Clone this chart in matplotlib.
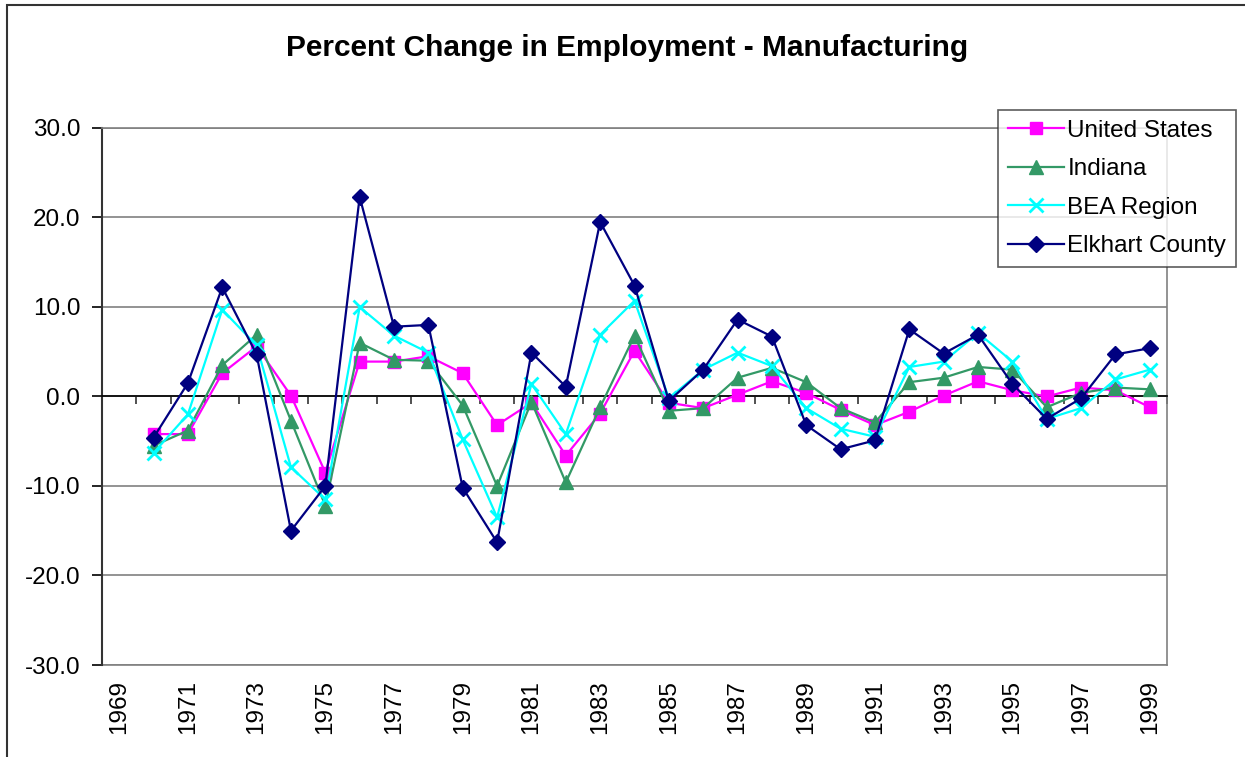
import matplotlib
matplotlib.use("Agg")
import matplotlib.pyplot as plt
from matplotlib.patches import Rectangle

plt.rcParams["font.family"] = ["Liberation Sans", "DejaVu Sans"]

# Data
years = list(range(1970, 2000))
united_states = [-4.2, -4.2, 2.6, 5.6, 0.1, -8.5, 3.9, 3.9, 4.5, 2.6,
                 -3.2, -0.7, -6.6, -1.9, 5.1, -0.7, -1.3, 0.2, 1.7, 0.4,
                 -1.5, -3.2, -1.7, 0.1, 1.7, 0.7, 0.0, 1.0, 0.7, -1.2]
indiana = [-5.5, -3.8, 3.5, 6.9, -2.7, -12.2, 6.0, 4.1, 4.0, -1.0,
           -10.0, -0.6, -9.6, -1.2, 6.8, -1.6, -1.3, 2.1, 3.2, 1.6,
           -1.3, -2.9, 1.6, 2.1, 3.3, 3.0, -1.2, 0.4, 1.0, 0.8]
bea_region = [-6.3, -2.0, 9.7, 5.7, -7.9, -11.5, 10.0, 6.8, 4.9, -4.8,
              -13.5, 1.4, -4.2, 6.9, 10.7, -0.2, 3.0, 4.9, 3.4, -1.3,
              -3.6, -4.5, 3.3, 3.9, 7.1, 3.9, -2.5, -1.3, 1.9, 3.0]
elkhart = [-4.6, 1.5, 12.2, 4.7, -15.0, -10.0, 22.3, 7.8, 8.0, -10.2,
           -16.3, 4.9, 1.1, 19.5, 12.4, -0.5, 3.0, 8.6, 6.7, -3.2,
           -5.9, -4.9, 7.5, 4.8, 6.9, 1.4, -2.5, -0.2, 4.7, 5.4]
tick_years = list(range(1969, 2000, 2))

fig = plt.figure(figsize=(12.45, 7.57), dpi=100)
fig.patches.append(Rectangle((7 / 1245, -0.05), 1.1, 1 - 5 / 757 + 0.05,
                             transform=fig.transFigure, fill=False,
                             edgecolor="#333333", linewidth=1.5))

ax = fig.add_axes([102 / 1245, 1 - 665 / 757, 1065 / 1245, 537 / 757])

ax.plot(years, united_states, color="#FF00FF", marker="s", markersize=9,
        linewidth=1.6, label="United States", zorder=3)
ax.plot(years, indiana, color="#339966", marker="^", markersize=10,
        linewidth=1.6, label="Indiana", zorder=3)
ax.plot(years, bea_region, color="#00FFFF", marker="x", markersize=10,
        markeredgewidth=2, linewidth=1.6, label="BEA Region", zorder=3)
ax.plot(years, elkhart, color="#000080", marker="D", markersize=8,
        linewidth=1.6, label="Elkhart County", zorder=3)

ax.set_xlim(1968.5, 1999.5)
ax.set_ylim(-30, 30)
ax.set_yticks(range(-30, 31, 10))
ax.set_yticklabels([f"{v:.1f}" for v in range(-30, 31, 10)], fontsize=17.5)
ax.tick_params(axis="y", direction="out", length=7, width=1.2, pad=8.5)
ax.grid(axis="y", color="#808080", linewidth=1.2)

# category axis crosses at zero, ticks between categories
ax.spines["bottom"].set_position(("data", 0))
ax.spines["bottom"].set_color("black")
ax.spines["bottom"].set_linewidth(1.2)
ax.set_xticks([y + 0.5 for y in range(1968, 2000)])
ax.tick_params(axis="x", direction="out", length=6, width=1.2,
               labelbottom=False, color="#333333")
for side in ["top", "right"]:
    ax.spines[side].set_color("#808080")
    ax.spines[side].set_linewidth(1.2)
ax.spines["left"].set_color("#333333")
ax.spines["left"].set_linewidth(1.5)

sec = ax.secondary_xaxis("bottom")
sec.set_xticks(tick_years)
sec.set_xticklabels([str(y) for y in tick_years], rotation=90, fontsize=17.5)
sec.tick_params(length=0, pad=11)
sec.spines["bottom"].set_visible(False)
ax.axhline(-30, color="#808080", linewidth=1.2, clip_on=False)

fig.text(0.504, 0.937, "Percent Change in Employment - Manufacturing",
         ha="center", va="center", fontsize=21.5, fontweight="bold")

leg = fig.legend(loc="upper left", bbox_to_anchor=(998 / 1245, 1 - 110 / 757),
                 fontsize=17.5, frameon=True, fancybox=False, edgecolor="#333333",
                 borderpad=0.4, labelspacing=0.68, handlelength=2.3,
                 handletextpad=0.15, borderaxespad=0)
leg.get_frame().set_linewidth(1.2)

fig.savefig("out.png", dpi=100)
